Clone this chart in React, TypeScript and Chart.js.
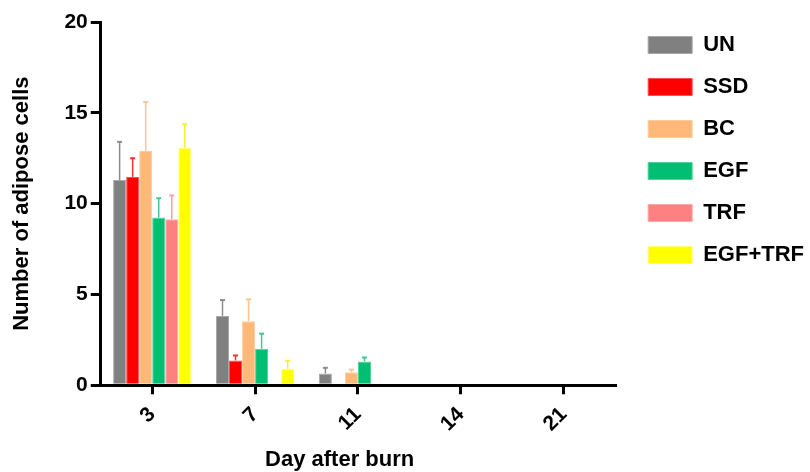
import React, { useEffect, useRef } from "react";
import { Chart, registerables } from "chart.js";
Chart.register(...registerables);

const categories = ["3", "7", "11", "14", "21"];
const seriesNames = ["UN", "SSD", "BC", "EGF", "TRF", "EGF+TRF"];
const unValues = [11.3, 3.82, 0.65, 0, 0];
const unErrors = [2.1, 0.87, 0.31, 0, 0];
const ssdValues = [11.47, 1.37, 0, 0, 0];
const ssdErrors = [1.03, 0.27, 0, 0, 0];
const bcValues = [12.9, 3.53, 0.72, 0, 0];
const bcErrors = [2.7, 1.2, 0.14, 0, 0];
const egfValues = [9.23, 2.01, 1.31, 0, 0];
const egfErrors = [1.07, 0.83, 0.22, 0, 0];
const trfValues = [9.14, 0, 0, 0, 0];
const trfErrors = [1.31, 0, 0, 0, 0];
const egfTrfValues = [13.07, 0.89, 0, 0, 0];
const egfTrfErrors = [1.3, 0.46, 0, 0, 0];
const yTickValues = [0, 5, 10, 15, 20];

const fillColors = ["#808080", "#FF0000", "#FFB878", "#00BE72", "#FF8080", "#FFFF00"];
const edgeColors = ["#A8A8A8", "#FF5050", "#FFCCA0", "#50D09A", "#FFA8A8", "#FFFF80"];
const errColors = ["#8C8C8C", "#FF3030", "#FFC490", "#40C890", "#FFA0A0", "#F4F030"];

const FONT = "'Liberation Sans', Arial, sans-serif";

const errorBarPlugin = {
  id: "errorBars",
  afterDatasetsDraw(chart: any) {
    const ctx = chart.ctx;
    const yScale = chart.scales.y;
    chart.data.datasets.forEach((ds: any, i: number) => {
      const meta = chart.getDatasetMeta(i);
      meta.data.forEach((bar: any, j: number) => {
        const v = ds.data[j];
        const e = ds.errors[j];
        if (!e || !v) return;
        const yTop = yScale.getPixelForValue(v + e);
        const yBar = yScale.getPixelForValue(v);
        ctx.save();
        ctx.strokeStyle = ds.errColor;
        ctx.lineWidth = 1.5;
        ctx.beginPath();
        ctx.moveTo(bar.x, yBar);
        ctx.lineTo(bar.x, yTop);
        ctx.stroke();
        ctx.lineWidth = 2;
        ctx.beginPath();
        ctx.moveTo(bar.x - 2.5, yTop);
        ctx.lineTo(bar.x + 2.5, yTop);
        ctx.stroke();
        ctx.restore();
      });
    });
  },
};

export default function App() {
  const ref = useRef<HTMLCanvasElement>(null);
  useEffect(() => {
    const valueSets = [unValues, ssdValues, bcValues, egfValues, trfValues, egfTrfValues];
    const errorSets = [unErrors, ssdErrors, bcErrors, egfErrors, trfErrors, egfTrfErrors];
    const chart = new Chart(ref.current as HTMLCanvasElement, {
      type: "bar",
      data: {
        labels: categories,
        datasets: seriesNames.map((name, i) => ({
          label: name,
          data: valueSets[i],
          errors: errorSets[i],
          errColor: errColors[i],
          backgroundColor: fillColors[i],
          borderColor: edgeColors[i],
          borderWidth: 1,
          barPercentage: 1.0,
          categoryPercentage: 0.76,
        })) as any,
      },
      options: {
        animation: false,
        responsive: true,
        maintainAspectRatio: false,
        layout: { padding: { top: 14, right: -4, bottom: -1, left: 0 } },
        plugins: {
          tooltip: { enabled: false },
          legend: {
            position: "right",
            align: "start",
            maxWidth: 220,
            labels: {
              boxWidth: 44,
              boxHeight: 17,
              padding: 20,
              color: "#000",
              font: { family: FONT, size: 22, weight: "bold" },
            },
          },
        },
        scales: {
          x: {
            offset: true,
            border: { display: true, color: "#000", width: 3 },
            grid: {
              display: true,
              offset: false,
              drawOnChartArea: false,
              drawTicks: true,
              tickLength: 9,
              color: "#000",
              lineWidth: 3,
            },
            ticks: {
              color: "#000",
              minRotation: 45,
              maxRotation: 45,
              padding: 8,
              font: { family: FONT, size: 21, weight: "bold" },
            },
            title: {
              display: true,
              text: "Day after burn      ",
              color: "#000",
              padding: { top: 2, bottom: 0 },
              font: { family: FONT, size: 22, weight: "bold" },
            },
          },
          y: {
            min: 0,
            max: 20,
            border: { display: true, color: "#000", width: 3 },
            grid: {
              display: true,
              drawOnChartArea: false,
              drawTicks: true,
              tickLength: 10,
              color: "#000",
              lineWidth: 3,
            },
            afterBuildTicks: (scale: any) => {
              scale.ticks = yTickValues.map((v) => ({ value: v }));
            },
            afterFit: (scale: any) => {
              scale.paddingTop = 22;
            },
            ticks: {
              color: "#000",
              padding: 3,
              font: { family: FONT, size: 21, weight: "bold" },
            },
            title: {
              display: true,
              text: "Number of adipose cells",
              color: "#000",
              padding: { top: 9, bottom: 26 },
              font: { family: FONT, size: 22, weight: "bold" },
            },
          },
          gap: {
            type: "linear",
            position: "right",
            display: true,
            ticks: { display: false },
            grid: { display: false, drawTicks: false },
            border: { display: false },
            afterFit: (scale: any) => {
              scale.width = 13;
            },
          },
        } as any,
      },
      plugins: [errorBarPlugin],
    });
    return () => chart.destroy();
  }, []);
  return (
    <div style={{ position: "fixed", left: 0, top: 0, width: 810, height: 472, background: "#fff" }}>
      <canvas ref={ref} />
    </div>
  );
}
